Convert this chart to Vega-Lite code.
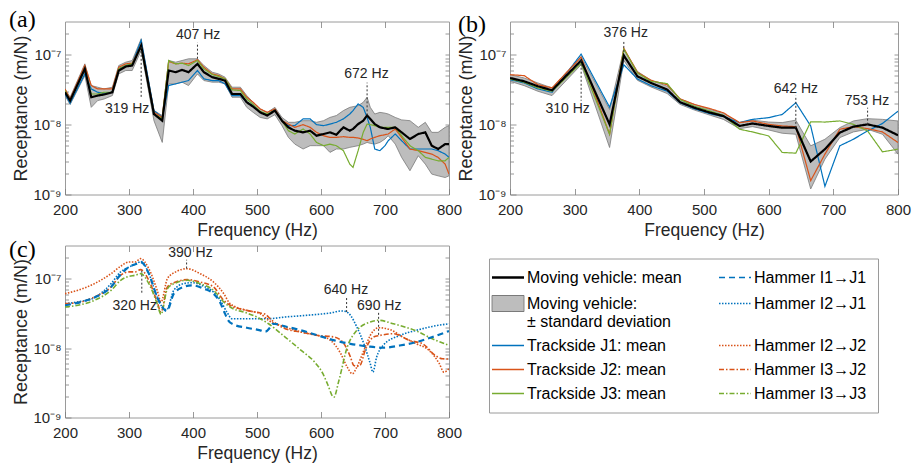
{
  "$schema": "https://vega.github.io/schema/vega-lite/v6.json",
  "background": "white",
  "padding": {"left": 8, "top": 7.5, "right": 5, "bottom": 2},
  "config": {
    "view": {"stroke": "#9a9a9a", "strokeWidth": 1},
    "font": "Liberation Sans",
    "axis": {"domain": false, "grid": false, "tickColor": "#7f7f7f", "tickWidth": 0.8, "labelFont": "Liberation Sans", "titleFont": "Liberation Sans", "labelColor": "#262626", "titleColor": "#262626", "titleFontWeight": "normal"}
  },
  "datasets": {
    "la": [
      {"s":"J1","f":200,"v":2.75e-8},{"s":"J1","f":208,"v":2.02e-8},{"s":"J1","f":231,"v":5.33e-8},{"s":"J1","f":241,"v":3.25e-8},{"s":"J1","f":251,"v":2.91e-8},{"s":"J1","f":261,"v":2.82e-8},{"s":"J1","f":274,"v":2.91e-8},{"s":"J1","f":284,"v":6.30e-8},{"s":"J1","f":295,"v":7.03e-8},{"s":"J1","f":305,"v":7.43e-8},{"s":"J1","f":319,"v":1.61e-7},{"s":"J1","f":339,"v":1.59e-8},{"s":"J1","f":352,"v":1.27e-8},{"s":"J1","f":362,"v":3.63e-8},{"s":"J1","f":373,"v":3.84e-8},{"s":"J1","f":383,"v":4.06e-8},{"s":"J1","f":393,"v":4.28e-8},{"s":"J1","f":407,"v":5.96e-8},{"s":"J1","f":417,"v":4.53e-8},{"s":"J1","f":430,"v":4.28e-8},{"s":"J1","f":440,"v":4.28e-8},{"s":"J1","f":450,"v":3.84e-8},{"s":"J1","f":461,"v":2.61e-8},{"s":"J1","f":474,"v":2.61e-8},{"s":"J1","f":484,"v":2.09e-8},{"s":"J1","f":494,"v":1.87e-8},{"s":"J1","f":505,"v":1.50e-8},{"s":"J1","f":516,"v":1.39e-8},{"s":"J1","f":528,"v":1.63e-8},{"s":"J1","f":539,"v":1.14e-8},{"s":"J1","f":549,"v":9.68e-9},{"s":"J1","f":559,"v":9.68e-9},{"s":"J1","f":572,"v":1.21e-8},{"s":"J1","f":583,"v":1.21e-8},{"s":"J1","f":593,"v":1.00e-8},{"s":"J1","f":604,"v":9.68e-9},{"s":"J1","f":614,"v":1.02e-8},{"s":"J1","f":624,"v":1.08e-8},{"s":"J1","f":635,"v":1.21e-8},{"s":"J1","f":645,"v":1.42e-8},{"s":"J1","f":650,"v":1.59e-8},{"s":"J1","f":658,"v":1.98e-8},{"s":"J1","f":666,"v":1.77e-8},{"s":"J1","f":672,"v":1.27e-8},{"s":"J1","f":677,"v":9.16e-9},{"s":"J1","f":684,"v":4.48e-9},{"s":"J1","f":692,"v":4.24e-9},{"s":"J1","f":700,"v":5.00e-9},{"s":"J1","f":705,"v":5.89e-9},{"s":"J1","f":716,"v":7.35e-9},{"s":"J1","f":726,"v":5.89e-9},{"s":"J1","f":739,"v":4.48e-9},{"s":"J1","f":752,"v":4.48e-9},{"s":"J1","f":763,"v":4.48e-9},{"s":"J1","f":773,"v":4.48e-9},{"s":"J1","f":783,"v":4.24e-9},{"s":"J1","f":794,"v":3.79e-9},{"s":"J1","f":800,"v":3.40e-9},
      {"s":"J2","f":200,"v":3.25e-8},{"s":"J2","f":208,"v":2.33e-8},{"s":"J2","f":231,"v":7.03e-8},{"s":"J2","f":241,"v":3.63e-8},{"s":"J2","f":251,"v":3.25e-8},{"s":"J2","f":261,"v":3.25e-8},{"s":"J2","f":274,"v":3.25e-8},{"s":"J2","f":284,"v":6.65e-8},{"s":"J2","f":295,"v":7.43e-8},{"s":"J2","f":305,"v":7.59e-8},{"s":"J2","f":319,"v":1.36e-7},{"s":"J2","f":339,"v":1.50e-8},{"s":"J2","f":352,"v":1.27e-8},{"s":"J2","f":362,"v":8.02e-8},{"s":"J2","f":373,"v":7.43e-8},{"s":"J2","f":383,"v":7.59e-8},{"s":"J2","f":393,"v":7.43e-8},{"s":"J2","f":407,"v":8.48e-8},{"s":"J2","f":417,"v":6.65e-8},{"s":"J2","f":430,"v":5.33e-8},{"s":"J2","f":440,"v":5.05e-8},{"s":"J2","f":450,"v":4.53e-8},{"s":"J2","f":461,"v":3.25e-8},{"s":"J2","f":474,"v":3.25e-8},{"s":"J2","f":484,"v":2.47e-8},{"s":"J2","f":494,"v":2.09e-8},{"s":"J2","f":505,"v":1.68e-8},{"s":"J2","f":516,"v":1.50e-8},{"s":"J2","f":528,"v":1.68e-8},{"s":"J2","f":539,"v":1.14e-8},{"s":"J2","f":549,"v":1.02e-8},{"s":"J2","f":559,"v":9.16e-9},{"s":"J2","f":572,"v":1.00e-8},{"s":"J2","f":583,"v":9.16e-9},{"s":"J2","f":593,"v":7.76e-9},{"s":"J2","f":604,"v":6.95e-9},{"s":"J2","f":614,"v":6.58e-9},{"s":"J2","f":624,"v":6.58e-9},{"s":"J2","f":635,"v":6.73e-9},{"s":"J2","f":645,"v":6.58e-9},{"s":"J2","f":650,"v":6.58e-9},{"s":"J2","f":658,"v":6.44e-9},{"s":"J2","f":666,"v":6.16e-9},{"s":"J2","f":672,"v":5.89e-9},{"s":"J2","f":677,"v":6.23e-9},{"s":"J2","f":684,"v":6.58e-9},{"s":"J2","f":692,"v":6.95e-9},{"s":"J2","f":700,"v":7.18e-9},{"s":"J2","f":705,"v":7.35e-9},{"s":"J2","f":716,"v":8.67e-9},{"s":"J2","f":726,"v":6.58e-9},{"s":"J2","f":739,"v":4.48e-9},{"s":"J2","f":752,"v":4.24e-9},{"s":"J2","f":763,"v":4.01e-9},{"s":"J2","f":773,"v":3.79e-9},{"s":"J2","f":783,"v":3.40e-9},{"s":"J2","f":794,"v":2.72e-9},{"s":"J2","f":800,"v":1.96e-9},
      {"s":"J3","f":200,"v":3.08e-8},{"s":"J3","f":208,"v":2.21e-8},{"s":"J3","f":231,"v":6.30e-8},{"s":"J3","f":241,"v":2.75e-8},{"s":"J3","f":251,"v":2.75e-8},{"s":"J3","f":261,"v":2.91e-8},{"s":"J3","f":274,"v":2.91e-8},{"s":"J3","f":284,"v":6.30e-8},{"s":"J3","f":295,"v":7.03e-8},{"s":"J3","f":305,"v":7.43e-8},{"s":"J3","f":319,"v":1.29e-7},{"s":"J3","f":339,"v":1.42e-8},{"s":"J3","f":352,"v":1.21e-8},{"s":"J3","f":362,"v":8.29e-8},{"s":"J3","f":373,"v":7.43e-8},{"s":"J3","f":383,"v":7.59e-8},{"s":"J3","f":393,"v":7.03e-8},{"s":"J3","f":407,"v":8.29e-8},{"s":"J3","f":417,"v":6.30e-8},{"s":"J3","f":430,"v":5.22e-8},{"s":"J3","f":440,"v":4.89e-8},{"s":"J3","f":450,"v":4.53e-8},{"s":"J3","f":461,"v":3.15e-8},{"s":"J3","f":474,"v":3.08e-8},{"s":"J3","f":484,"v":2.33e-8},{"s":"J3","f":494,"v":1.94e-8},{"s":"J3","f":505,"v":1.55e-8},{"s":"J3","f":516,"v":1.42e-8},{"s":"J3","f":528,"v":1.59e-8},{"s":"J3","f":539,"v":1.14e-8},{"s":"J3","f":549,"v":8.20e-9},{"s":"J3","f":559,"v":7.35e-9},{"s":"J3","f":572,"v":8.67e-9},{"s":"J3","f":583,"v":7.35e-9},{"s":"J3","f":593,"v":5.57e-9},{"s":"J3","f":604,"v":5.00e-9},{"s":"J3","f":614,"v":5.27e-9},{"s":"J3","f":624,"v":5.00e-9},{"s":"J3","f":635,"v":4.24e-9},{"s":"J3","f":645,"v":2.72e-9},{"s":"J3","f":650,"v":2.44e-9},{"s":"J3","f":658,"v":4.24e-9},{"s":"J3","f":666,"v":7.76e-9},{"s":"J3","f":672,"v":1.02e-8},{"s":"J3","f":677,"v":1.00e-8},{"s":"J3","f":684,"v":9.68e-9},{"s":"J3","f":692,"v":9.16e-9},{"s":"J3","f":700,"v":9.16e-9},{"s":"J3","f":705,"v":9.16e-9},{"s":"J3","f":716,"v":9.16e-9},{"s":"J3","f":726,"v":6.95e-9},{"s":"J3","f":739,"v":5.00e-9},{"s":"J3","f":752,"v":4.24e-9},{"s":"J3","f":763,"v":3.40e-9},{"s":"J3","f":773,"v":3.21e-9},{"s":"J3","f":783,"v":3.04e-9},{"s":"J3","f":794,"v":3.04e-9},{"s":"J3","f":800,"v":3.40e-9},
      {"s":"MV","f":200,"v":2.91e-8},{"s":"MV","f":208,"v":2.21e-8},{"s":"MV","f":231,"v":6.30e-8},{"s":"MV","f":241,"v":2.47e-8},{"s":"MV","f":251,"v":2.61e-8},{"s":"MV","f":261,"v":2.70e-8},{"s":"MV","f":274,"v":2.91e-8},{"s":"MV","f":284,"v":5.96e-8},{"s":"MV","f":295,"v":6.81e-8},{"s":"MV","f":305,"v":7.03e-8},{"s":"MV","f":319,"v":1.36e-7},{"s":"MV","f":339,"v":1.42e-8},{"s":"MV","f":352,"v":1.14e-8},{"s":"MV","f":362,"v":5.96e-8},{"s":"MV","f":373,"v":5.64e-8},{"s":"MV","f":383,"v":6.09e-8},{"s":"MV","f":393,"v":5.64e-8},{"s":"MV","f":407,"v":7.43e-8},{"s":"MV","f":417,"v":5.64e-8},{"s":"MV","f":430,"v":4.78e-8},{"s":"MV","f":440,"v":4.53e-8},{"s":"MV","f":450,"v":4.28e-8},{"s":"MV","f":461,"v":2.75e-8},{"s":"MV","f":474,"v":2.75e-8},{"s":"MV","f":484,"v":2.09e-8},{"s":"MV","f":494,"v":1.81e-8},{"s":"MV","f":505,"v":1.50e-8},{"s":"MV","f":516,"v":1.35e-8},{"s":"MV","f":528,"v":1.59e-8},{"s":"MV","f":539,"v":1.14e-8},{"s":"MV","f":549,"v":9.16e-9},{"s":"MV","f":559,"v":8.20e-9},{"s":"MV","f":572,"v":7.76e-9},{"s":"MV","f":583,"v":8.20e-9},{"s":"MV","f":593,"v":6.95e-9},{"s":"MV","f":604,"v":7.35e-9},{"s":"MV","f":614,"v":7.76e-9},{"s":"MV","f":624,"v":7.18e-9},{"s":"MV","f":635,"v":9.16e-9},{"s":"MV","f":645,"v":8.20e-9},{"s":"MV","f":650,"v":8.67e-9},{"s":"MV","f":658,"v":1.02e-8},{"s":"MV","f":666,"v":1.14e-8},{"s":"MV","f":672,"v":1.35e-8},{"s":"MV","f":677,"v":1.21e-8},{"s":"MV","f":684,"v":1.02e-8},{"s":"MV","f":692,"v":9.16e-9},{"s":"MV","f":700,"v":8.85e-9},{"s":"MV","f":705,"v":8.67e-9},{"s":"MV","f":716,"v":9.16e-9},{"s":"MV","f":726,"v":7.76e-9},{"s":"MV","f":739,"v":6.23e-9},{"s":"MV","f":752,"v":7.35e-9},{"s":"MV","f":763,"v":7.76e-9},{"s":"MV","f":773,"v":5.00e-9},{"s":"MV","f":783,"v":4.48e-9},{"s":"MV","f":794,"v":5.27e-9},{"s":"MV","f":800,"v":5.27e-9}
    ],
    "ba": [
      {"f":200,"lo":2.61e-8,"hi":3.25e-8},{"f":208,"lo":1.94e-8,"hi":2.47e-8},{"f":231,"lo":5.05e-8,"hi":7.43e-8},{"f":241,"lo":1.77e-8,"hi":3.63e-8},{"f":251,"lo":2.21e-8,"hi":3.44e-8},{"f":261,"lo":2.33e-8,"hi":3.25e-8},{"f":274,"lo":2.61e-8,"hi":3.44e-8},{"f":284,"lo":5.33e-8,"hi":7.03e-8},{"f":295,"lo":5.96e-8,"hi":7.85e-8},{"f":305,"lo":5.96e-8,"hi":8.29e-8},{"f":319,"lo":1.15e-7,"hi":1.70e-7},{"f":339,"lo":1.14e-8,"hi":1.59e-8},{"f":352,"lo":5.57e-9,"hi":1.35e-8},{"f":362,"lo":3.84e-8,"hi":8.29e-8},{"f":373,"lo":3.84e-8,"hi":7.85e-8},{"f":383,"lo":4.06e-8,"hi":8.29e-8},{"f":393,"lo":3.63e-8,"hi":8.77e-8},{"f":407,"lo":5.33e-8,"hi":8.77e-8},{"f":417,"lo":4.28e-8,"hi":7.03e-8},{"f":430,"lo":4.06e-8,"hi":5.64e-8},{"f":440,"lo":4.06e-8,"hi":5.33e-8},{"f":450,"lo":3.84e-8,"hi":4.78e-8},{"f":461,"lo":2.47e-8,"hi":3.44e-8},{"f":474,"lo":2.47e-8,"hi":3.44e-8},{"f":484,"lo":1.77e-8,"hi":2.61e-8},{"f":494,"lo":1.50e-8,"hi":2.09e-8},{"f":505,"lo":1.27e-8,"hi":1.68e-8},{"f":516,"lo":1.21e-8,"hi":1.50e-8},{"f":528,"lo":1.39e-8,"hi":1.77e-8},{"f":539,"lo":9.68e-9,"hi":1.27e-8},{"f":549,"lo":6.58e-9,"hi":1.08e-8},{"f":559,"lo":5.27e-9,"hi":1.08e-8},{"f":572,"lo":4.48e-9,"hi":1.14e-8},{"f":583,"lo":5.00e-9,"hi":1.14e-8},{"f":593,"lo":5.00e-9,"hi":1.08e-8},{"f":604,"lo":5.00e-9,"hi":1.14e-8},{"f":614,"lo":4.01e-9,"hi":1.27e-8},{"f":624,"lo":4.48e-9,"hi":1.35e-8},{"f":635,"lo":4.48e-9,"hi":1.59e-8},{"f":645,"lo":4.73e-9,"hi":1.77e-8},{"f":650,"lo":4.83e-9,"hi":1.81e-8},{"f":658,"lo":5.00e-9,"hi":1.87e-8},{"f":666,"lo":5.27e-9,"hi":2.09e-8},{"f":672,"lo":5.57e-9,"hi":2.47e-8},{"f":677,"lo":5.40e-9,"hi":1.77e-8},{"f":684,"lo":5.27e-9,"hi":1.42e-8},{"f":692,"lo":5.57e-9,"hi":1.50e-8},{"f":700,"lo":6.23e-9,"hi":1.46e-8},{"f":705,"lo":6.95e-9,"hi":1.42e-8},{"f":716,"lo":5.27e-9,"hi":1.27e-8},{"f":726,"lo":3.40e-9,"hi":1.17e-8},{"f":739,"lo":2.19e-9,"hi":1.14e-8},{"f":752,"lo":3.59e-9,"hi":9.16e-9},{"f":763,"lo":2.72e-9,"hi":1.08e-8},{"f":773,"lo":1.96e-9,"hi":7.76e-9},{"f":783,"lo":1.85e-9,"hi":7.76e-9},{"f":794,"lo":1.75e-9,"hi":9.16e-9},{"f":800,"lo":1.85e-9,"hi":9.68e-9}
    ],
    "lb": [
      {"s":"J1","f":200,"v":4.41e-8},{"s":"J1","f":222,"v":3.96e-8},{"s":"J1","f":243,"v":3.25e-8},{"s":"J1","f":265,"v":2.91e-8},{"s":"J1","f":310,"v":1.022e-7},{"s":"J1","f":354,"v":1.78e-8},{"s":"J1","f":376,"v":7.21e-8},{"s":"J1","f":397,"v":4.51e-8},{"s":"J1","f":418,"v":3.62e-8},{"s":"J1","f":443,"v":3.01e-8},{"s":"J1","f":463,"v":2.06e-8},{"s":"J1","f":485,"v":1.69e-8},{"s":"J1","f":510,"v":1.43e-8},{"s":"J1","f":530,"v":1.30e-8},{"s":"J1","f":555,"v":1.07e-8},{"s":"J1","f":575,"v":1.19e-8},{"s":"J1","f":600,"v":1.26e-8},{"s":"J1","f":621,"v":1.40e-8},{"s":"J1","f":642,"v":2.06e-8},{"s":"J1","f":665,"v":9.58e-9},{"s":"J1","f":687,"v":1.31e-9},{"s":"J1","f":710,"v":4.98e-9},{"s":"J1","f":731,"v":6.18e-9},{"s":"J1","f":753,"v":8.13e-9},{"s":"J1","f":776,"v":1.04e-8},{"s":"J1","f":800,"v":1.56e-8},
      {"s":"J2","f":200,"v":5.20e-8},{"s":"J2","f":222,"v":5.03e-8},{"s":"J2","f":243,"v":3.74e-8},{"s":"J2","f":265,"v":3.36e-8},{"s":"J2","f":310,"v":9.27e-8},{"s":"J2","f":354,"v":7.29e-9},{"s":"J2","f":376,"v":1.245e-7},{"s":"J2","f":397,"v":5.61e-8},{"s":"J2","f":418,"v":4.32e-8},{"s":"J2","f":443,"v":3.74e-8},{"s":"J2","f":463,"v":2.34e-8},{"s":"J2","f":485,"v":1.95e-8},{"s":"J2","f":510,"v":1.69e-8},{"s":"J2","f":530,"v":1.48e-8},{"s":"J2","f":555,"v":1.07e-8},{"s":"J2","f":575,"v":1.13e-8},{"s":"J2","f":600,"v":1.01e-8},{"s":"J2","f":621,"v":9.58e-9},{"s":"J2","f":642,"v":9.37e-9},{"s":"J2","f":665,"v":1.58e-9},{"s":"J2","f":687,"v":3.78e-9},{"s":"J2","f":710,"v":8.59e-9},{"s":"J2","f":731,"v":9.37e-9},{"s":"J2","f":753,"v":8.77e-9},{"s":"J2","f":776,"v":7.87e-9},{"s":"J2","f":800,"v":5.55e-9},
      {"s":"J3","f":200,"v":4.51e-8},{"s":"J3","f":222,"v":4.04e-8},{"s":"J3","f":243,"v":3.36e-8},{"s":"J3","f":265,"v":3.01e-8},{"s":"J3","f":310,"v":7.61e-8},{"s":"J3","f":354,"v":7.29e-9},{"s":"J3","f":376,"v":1.204e-7},{"s":"J3","f":397,"v":5.49e-8},{"s":"J3","f":418,"v":4.18e-8},{"s":"J3","f":443,"v":3.87e-8},{"s":"J3","f":463,"v":2.29e-8},{"s":"J3","f":485,"v":1.84e-8},{"s":"J3","f":510,"v":1.56e-8},{"s":"J3","f":530,"v":1.36e-8},{"s":"J3","f":555,"v":8.59e-9},{"s":"J3","f":575,"v":7.87e-9},{"s":"J3","f":600,"v":6.90e-9},{"s":"J3","f":621,"v":4.00e-9},{"s":"J3","f":642,"v":3.91e-9},{"s":"J3","f":665,"v":1.10e-8},{"s":"J3","f":687,"v":1.09e-8},{"s":"J3","f":710,"v":1.13e-8},{"s":"J3","f":731,"v":1.01e-8},{"s":"J3","f":753,"v":8.13e-9},{"s":"J3","f":776,"v":4.08e-9},{"s":"J3","f":800,"v":4.46e-9},
      {"s":"MV","f":200,"v":4.66e-8},{"s":"MV","f":222,"v":4.18e-8},{"s":"MV","f":243,"v":3.55e-8},{"s":"MV","f":265,"v":3.11e-8},{"s":"MV","f":310,"v":8.30e-8},{"s":"MV","f":354,"v":1.01e-8},{"s":"MV","f":376,"v":9.78e-8},{"s":"MV","f":397,"v":4.92e-8},{"s":"MV","f":418,"v":3.96e-8},{"s":"MV","f":443,"v":3.18e-8},{"s":"MV","f":463,"v":2.10e-8},{"s":"MV","f":485,"v":1.75e-8},{"s":"MV","f":510,"v":1.48e-8},{"s":"MV","f":530,"v":1.33e-8},{"s":"MV","f":555,"v":9.58e-9},{"s":"MV","f":575,"v":1.04e-8},{"s":"MV","f":600,"v":9.58e-9},{"s":"MV","f":621,"v":9.06e-9},{"s":"MV","f":642,"v":9.06e-9},{"s":"MV","f":665,"v":2.97e-9},{"s":"MV","f":687,"v":4.46e-9},{"s":"MV","f":710,"v":7.69e-9},{"s":"MV","f":731,"v":9.37e-9},{"s":"MV","f":753,"v":1.01e-8},{"s":"MV","f":776,"v":9.06e-9},{"s":"MV","f":800,"v":7.05e-9}
    ],
    "bb": [
      {"f":200,"lo":4.18e-8,"hi":5.20e-8},{"f":222,"lo":3.62e-8,"hi":4.66e-8},{"f":243,"lo":3.01e-8,"hi":3.96e-8},{"f":265,"lo":2.61e-8,"hi":3.36e-8},{"f":310,"lo":7.21e-8,"hi":9.47e-8},{"f":354,"lo":4.71e-9,"hi":1.65e-8},{"f":376,"lo":8.30e-8,"hi":1.217e-7},{"f":397,"lo":4.32e-8,"hi":5.79e-8},{"f":418,"lo":3.47e-8,"hi":4.32e-8},{"f":443,"lo":2.79e-8,"hi":3.55e-8},{"f":463,"lo":1.95e-8,"hi":2.34e-8},{"f":485,"lo":1.62e-8,"hi":1.95e-8},{"f":510,"lo":1.36e-8,"hi":1.65e-8},{"f":530,"lo":1.19e-8,"hi":1.45e-8},{"f":555,"lo":8.77e-9,"hi":1.07e-8},{"f":575,"lo":9.37e-9,"hi":1.16e-8},{"f":600,"lo":8.40e-9,"hi":1.09e-8},{"f":621,"lo":7.53e-9,"hi":1.07e-8},{"f":642,"lo":7.29e-9,"hi":1.16e-8},{"f":665,"lo":1.20e-9,"hi":4.98e-9},{"f":687,"lo":3.21e-9,"hi":6.18e-9},{"f":710,"lo":6.53e-9,"hi":9.06e-9},{"f":731,"lo":7.87e-9,"hi":1.13e-8},{"f":753,"lo":8.59e-9,"hi":1.22e-8},{"f":776,"lo":7.29e-9,"hi":1.19e-8},{"f":800,"lo":3.78e-9,"hi":1.13e-8}
    ],
    "lc": [
      {"s":"H11","f":200,"v":4.13e-8},{"s":"H11","f":225,"v":4.61e-8},{"s":"H11","f":250,"v":5.56e-8},{"s":"H11","f":272,"v":7.58e-8},{"s":"H11","f":287,"v":1.15e-7},{"s":"H11","f":300,"v":1.47e-7},{"s":"H11","f":310,"v":1.61e-7},{"s":"H11","f":319,"v":1.72e-7},{"s":"H11","f":331,"v":1.18e-7},{"s":"H11","f":344,"v":5.44e-8},{"s":"H11","f":352,"v":3.90e-8},{"s":"H11","f":359,"v":3.42e-8},{"s":"H11","f":370,"v":6.08e-8},{"s":"H11","f":385,"v":7.58e-8},{"s":"H11","f":398,"v":8.01e-8},{"s":"H11","f":417,"v":7.17e-8},{"s":"H11","f":432,"v":6.08e-8},{"s":"H11","f":442,"v":4.61e-8},{"s":"H11","f":450,"v":3.13e-8},{"s":"H11","f":455,"v":2.51e-8},{"s":"H11","f":463,"v":2.19e-8},{"s":"H11","f":484,"v":1.96e-8},{"s":"H11","f":505,"v":1.80e-8},{"s":"H11","f":513,"v":1.72e-8},{"s":"H11","f":520,"v":1.96e-8},{"s":"H11","f":525,"v":2.24e-8},{"s":"H11","f":544,"v":2.05e-8},{"s":"H11","f":569,"v":1.80e-8},{"s":"H11","f":595,"v":1.52e-8},{"s":"H11","f":621,"v":1.29e-8},{"s":"H11","f":646,"v":1.15e-8},{"s":"H11","f":672,"v":1.06e-8},{"s":"H11","f":697,"v":1.01e-8},{"s":"H11","f":723,"v":1.09e-8},{"s":"H11","f":749,"v":1.22e-8},{"s":"H11","f":774,"v":1.44e-8},{"s":"H11","f":800,"v":1.76e-8},
      {"s":"H21","f":200,"v":4.36e-8},{"s":"H21","f":225,"v":4.71e-8},{"s":"H21","f":246,"v":5.32e-8},{"s":"H21","f":272,"v":8.47e-8},{"s":"H21","f":287,"v":1.25e-7},{"s":"H21","f":300,"v":1.47e-7},{"s":"H21","f":310,"v":1.61e-7},{"s":"H21","f":319,"v":1.76e-7},{"s":"H21","f":331,"v":1.18e-7},{"s":"H21","f":344,"v":5.44e-8},{"s":"H21","f":352,"v":3.90e-8},{"s":"H21","f":359,"v":3.57e-8},{"s":"H21","f":370,"v":6.79e-8},{"s":"H21","f":385,"v":8.47e-8},{"s":"H21","f":398,"v":8.75e-8},{"s":"H21","f":417,"v":7.75e-8},{"s":"H21","f":432,"v":6.42e-8},{"s":"H21","f":442,"v":4.98e-8},{"s":"H21","f":453,"v":3.30e-8},{"s":"H21","f":461,"v":2.65e-8},{"s":"H21","f":484,"v":2.65e-8},{"s":"H21","f":505,"v":2.65e-8},{"s":"H21","f":518,"v":2.65e-8},{"s":"H21","f":544,"v":2.80e-8},{"s":"H21","f":569,"v":2.92e-8},{"s":"H21","f":595,"v":3.06e-8},{"s":"H21","f":615,"v":3.20e-8},{"s":"H21","f":631,"v":3.42e-8},{"s":"H21","f":638,"v":3.38e-8},{"s":"H21","f":646,"v":2.96e-8},{"s":"H21","f":656,"v":2.01e-8},{"s":"H21","f":667,"v":1.15e-8},{"s":"H21","f":677,"v":5.95e-9},{"s":"H21","f":681,"v":4.51e-9},{"s":"H21","f":687,"v":7.44e-9},{"s":"H21","f":697,"v":1.09e-8},{"s":"H21","f":723,"v":1.52e-8},{"s":"H21","f":749,"v":1.80e-8},{"s":"H21","f":774,"v":2.05e-8},{"s":"H21","f":800,"v":2.24e-8},
      {"s":"H22","f":200,"v":6.08e-8},{"s":"H22","f":220,"v":6.79e-8},{"s":"H22","f":246,"v":8.47e-8},{"s":"H22","f":272,"v":1.18e-7},{"s":"H22","f":287,"v":1.51e-7},{"s":"H22","f":300,"v":1.74e-7},{"s":"H22","f":310,"v":1.74e-7},{"s":"H22","f":318,"v":1.94e-7},{"s":"H22","f":331,"v":1.39e-7},{"s":"H22","f":344,"v":6.79e-8},{"s":"H22","f":350,"v":4.61e-8},{"s":"H22","f":360,"v":1.0e-7},{"s":"H22","f":373,"v":1.25e-7},{"s":"H22","f":391,"v":1.39e-7},{"s":"H22","f":411,"v":1.18e-7},{"s":"H22","f":432,"v":8.95e-8},{"s":"H22","f":448,"v":6.08e-8},{"s":"H22","f":458,"v":4.36e-8},{"s":"H22","f":484,"v":3.49e-8},{"s":"H22","f":505,"v":3.13e-8},{"s":"H22","f":518,"v":2.51e-8},{"s":"H22","f":544,"v":2.01e-8},{"s":"H22","f":569,"v":1.70e-8},{"s":"H22","f":595,"v":1.52e-8},{"s":"H22","f":615,"v":1.29e-8},{"s":"H22","f":631,"v":8.28e-9},{"s":"H22","f":641,"v":5.32e-9},{"s":"H22","f":649,"v":4.27e-9},{"s":"H22","f":656,"v":5.32e-9},{"s":"H22","f":667,"v":9.25e-9},{"s":"H22","f":677,"v":1.52e-8},{"s":"H22","f":690,"v":1.96e-8},{"s":"H22","f":708,"v":1.84e-8},{"s":"H22","f":728,"v":1.44e-8},{"s":"H22","f":749,"v":1.15e-8},{"s":"H22","f":769,"v":9.25e-9},{"s":"H22","f":785,"v":5.94e-9},{"s":"H22","f":792,"v":4.51e-9},{"s":"H22","f":800,"v":5.04e-9},
      {"s":"H32","f":200,"v":4.36e-8},{"s":"H32","f":225,"v":4.61e-8},{"s":"H32","f":246,"v":5.44e-8},{"s":"H32","f":272,"v":7.58e-8},{"s":"H32","f":287,"v":1.12e-7},{"s":"H32","f":300,"v":1.25e-7},{"s":"H32","f":310,"v":1.25e-7},{"s":"H32","f":318,"v":1.35e-7},{"s":"H32","f":331,"v":9.46e-8},{"s":"H32","f":344,"v":4.61e-8},{"s":"H32","f":350,"v":3.30e-8},{"s":"H32","f":360,"v":7.58e-8},{"s":"H32","f":373,"v":8.95e-8},{"s":"H32","f":391,"v":9.67e-8},{"s":"H32","f":411,"v":8.95e-8},{"s":"H32","f":432,"v":7.58e-8},{"s":"H32","f":448,"v":4.87e-8},{"s":"H32","f":458,"v":4.13e-8},{"s":"H32","f":484,"v":3.49e-8},{"s":"H32","f":505,"v":3.20e-8},{"s":"H32","f":513,"v":3.06e-8},{"s":"H32","f":523,"v":2.51e-8},{"s":"H32","f":544,"v":1.90e-8},{"s":"H32","f":569,"v":1.70e-8},{"s":"H32","f":595,"v":1.52e-8},{"s":"H32","f":621,"v":1.44e-8},{"s":"H32","f":636,"v":1.15e-8},{"s":"H32","f":646,"v":7.44e-9},{"s":"H32","f":651,"v":5.63e-9},{"s":"H32","f":656,"v":5.45e-9},{"s":"H32","f":661,"v":5.63e-9},{"s":"H32","f":669,"v":9.25e-9},{"s":"H32","f":682,"v":1.44e-8},{"s":"H32","f":692,"v":1.52e-8},{"s":"H32","f":713,"v":1.61e-8},{"s":"H32","f":738,"v":1.29e-8},{"s":"H32","f":759,"v":1.15e-8},{"s":"H32","f":779,"v":7.79e-9},{"s":"H32","f":790,"v":7.01e-9},{"s":"H32","f":800,"v":6.95e-9},
      {"s":"H33","f":200,"v":3.90e-8},{"s":"H33","f":225,"v":4.22e-8},{"s":"H33","f":246,"v":4.87e-8},{"s":"H33","f":272,"v":6.79e-8},{"s":"H33","f":287,"v":9.46e-8},{"s":"H33","f":300,"v":1.08e-7},{"s":"H33","f":310,"v":1.12e-7},{"s":"H33","f":318,"v":1.18e-7},{"s":"H33","f":331,"v":8.47e-8},{"s":"H33","f":344,"v":4.36e-8},{"s":"H33","f":350,"v":3.06e-8},{"s":"H33","f":360,"v":7.17e-8},{"s":"H33","f":373,"v":8.66e-8},{"s":"H33","f":391,"v":9.46e-8},{"s":"H33","f":411,"v":8.47e-8},{"s":"H33","f":432,"v":6.79e-8},{"s":"H33","f":448,"v":4.61e-8},{"s":"H33","f":458,"v":3.90e-8},{"s":"H33","f":484,"v":3.20e-8},{"s":"H33","f":505,"v":2.65e-8},{"s":"H33","f":518,"v":2.24e-8},{"s":"H33","f":544,"v":1.44e-8},{"s":"H33","f":569,"v":9.25e-9},{"s":"H33","f":590,"v":6.29e-9},{"s":"H33","f":603,"v":4.27e-9},{"s":"H33","f":610,"v":3.06e-9},{"s":"H33","f":620,"v":1.96e-9},{"s":"H33","f":628,"v":3.42e-9},{"s":"H33","f":641,"v":1.03e-8},{"s":"H33","f":656,"v":1.80e-8},{"s":"H33","f":677,"v":2.37e-8},{"s":"H33","f":690,"v":2.51e-8},{"s":"H33","f":713,"v":2.24e-8},{"s":"H33","f":749,"v":1.76e-8},{"s":"H33","f":774,"v":1.36e-8},{"s":"H33","f":800,"v":1.09e-8}
    ],
    "ann": [
      {"p":"a","f":319,"y1":1.3e-7,"y2":2.35e-8,"tf":297,"ty":1.69e-8,"t":"319 Hz"},
      {"p":"a","f":407,"y1":8.8e-8,"y2":1.5e-7,"tf":408,"ty":1.92e-7,"t":"407 Hz"},
      {"p":"a","f":672,"y1":1.36e-8,"y2":4.0e-8,"tf":671,"ty":5.4e-8,"t":"672 Hz"},
      {"p":"b","f":310,"y1":8.5e-8,"y2":2.2e-8,"tf":289,"ty":1.65e-8,"t":"310 Hz"},
      {"p":"b","f":376,"y1":1.1e-7,"y2":1.63e-7,"tf":379,"ty":2.08e-7,"t":"376 Hz"},
      {"p":"b","f":642,"y1":9e-9,"y2":2.6e-8,"tf":642,"ty":3.25e-8,"t":"642 Hz"},
      {"p":"b","f":753,"y1":1.0e-8,"y2":1.75e-8,"tf":752,"ty":2.17e-8,"t":"753 Hz"},
      {"p":"c","f":320,"y1":1.3e-7,"y2":5.9e-8,"tf":309,"ty":4.0e-8,"t":"320 Hz"},
      {"p":"c","f":390,"y1":1.4e-7,"y2":1.87e-7,"tf":396,"ty":2.33e-7,"t":"390 Hz"},
      {"p":"c","f":640,"y1":3.3e-8,"y2":5.6e-8,"tf":639,"ty":6.8e-8,"t":"640 Hz"},
      {"p":"c","f":690,"y1":1.55e-8,"y2":3.4e-8,"tf":691,"ty":4.1e-8,"t":"690 Hz"}
    ]
  },
  "concat": [
    {
      "width": 384, "height": 173,
      "title": {"text": "(a)", "anchor": "start", "frame": "group", "font": "Liberation Serif", "fontSize": 24, "fontWeight": "normal", "color": "#000000", "dx": -56, "dy": 30, "offset": 0, "baseline": "alphabetic"},
      "resolve": {"axis": {"x": "independent", "y": "independent"}},
      "layer": [
        {"data": {"name": "ba"}, "mark": {"type": "area", "fill": "#bdbdbd", "stroke": "#7a7a7a", "strokeWidth": 0.8, "clip": true},
         "encoding": {"x": {"field": "f", "type": "quantitative", "scale": {"domain": [200, 800], "nice": false, "zero": false}, "axis": null},
                      "y": {"field": "lo", "type": "quantitative", "scale": {"type": "log", "domain": [1e-9, 3e-7], "nice": false}, "axis": null},
                      "y2": {"field": "hi"}}},
        {"data": {"name": "la"}, "transform": [{"filter": "datum.s != 'MV'"}], "mark": {"type": "line", "strokeWidth": 1.2, "clip": true},
         "encoding": {"x": {"field": "f", "type": "quantitative", "scale": {"domain": [200, 800], "nice": false, "zero": false},
                            "axis": {"orient": "bottom", "values": [200, 300, 400, 500, 600, 700, 800], "tickSize": -6, "labelPadding": 14, "labelFontSize": 15, "title": "Frequency (Hz)", "titleFontSize": 17.5, "titlePadding": 4, "labelFlush": false, "labelOverlap": false}},
                      "y": {"field": "v", "type": "quantitative", "scale": {"type": "log", "domain": [1e-9, 3e-7], "nice": false},
                            "axis": {"orient": "left", "values": [1e-9, 1e-8, 1e-7], "tickSize": -6, "labelPadding": 10, "labelFontSize": 15, "labelExpr": "datum.value < 1.5e-9 ? '10⁻⁹' : (datum.value < 1.5e-8 ? '10⁻⁸' : '10⁻⁷')", "title": "Receptance (m/N)", "titleFontSize": 18, "titlePadding": 2}},
                      "color": {"field": "s", "type": "nominal",
                                "scale": {"domain": ["MV", "SD", "J1", "J2", "J3", "H11", "H21", "H22", "H32", "H33"], "range": ["#000000", "#7a7a7a", "#0072BD", "#D95319", "#77AC30", "#0072BD", "#0072BD", "#D95319", "#D95319", "#77AC30"]},
                                "legend": {"orient": "none", "legendX": 424, "legendY": 237, "columns": 2, "title": null, "symbolType": "stroke", "symbolSize": 1024, "symbolStrokeWidth": 1.5, "labelFont": "Liberation Sans", "labelFontSize": 16, "labelColor": "#000000", "labelLimit": 400, "labelOffset": 11, "rowPadding": 8, "columnPadding": 34, "padding": 11, "strokeColor": "#9a9a9a", "fillColor": "white",
                                           "labelExpr": "datum.value == 'MV' ? 'Moving vehicle: mean' : datum.value == 'SD' ? ['Moving vehicle:', '± standard deviation'] : datum.value == 'J1' ? 'Trackside J1: mean' : datum.value == 'J2' ? 'Trackside J2: mean' : datum.value == 'J3' ? 'Trackside J3: mean' : datum.value == 'H11' ? 'Hammer I1→J1' : datum.value == 'H21' ? 'Hammer I2→J1' : datum.value == 'H22' ? 'Hammer I2→J2' : datum.value == 'H32' ? 'Hammer I3→J2' : 'Hammer I3→J3'",
                                           "encoding": {"symbols": {
                                             "shape": {"value": {"expr": "datum.value == 'SD' ? 'M-1,-0.5H1V0.5H-1Z' : 'stroke'"}},
                                             "fill": {"value": {"expr": "datum.value == 'SD' ? '#bdbdbd' : 'transparent'"}},
                                             "strokeWidth": {"value": {"expr": "datum.value == 'MV' ? 2.5 : (datum.value == 'SD' ? 1 : 1.5)"}}
                                           }}}},
                      "strokeDash": {"field": "s", "type": "nominal",
                                     "scale": {"domain": ["MV", "SD", "J1", "J2", "J3", "H11", "H21", "H22", "H32", "H33"], "range": [[1, 0], [1, 0], [1, 0], [1, 0], [1, 0], [6, 4], [1.5, 1.5], [1.5, 1.5], [5, 2, 1.5, 2], [5, 2, 1.5, 2]]}}}},
        {"data": {"name": "la"}, "transform": [{"filter": "datum.s == 'MV'"}], "mark": {"type": "line", "strokeWidth": 2.2, "clip": true},
         "encoding": {"x": {"field": "f", "type": "quantitative", "scale": {"domain": [200, 800], "nice": false, "zero": false}, "axis": null},
                      "y": {"field": "v", "type": "quantitative", "scale": {"type": "log", "domain": [1e-9, 3e-7], "nice": false}, "axis": null},
                      "color": {"field": "s", "type": "nominal"},
                      "strokeDash": {"field": "s", "type": "nominal"}}},
        {"data": {"name": "ann"}, "transform": [{"filter": "datum.p == 'a'"}], "mark": {"type": "rule", "strokeDash": [2, 2], "color": "#333333", "strokeWidth": 1},
         "encoding": {"x": {"field": "f", "type": "quantitative", "scale": {"domain": [200, 800], "nice": false, "zero": false}, "axis": {"orient": "top", "values": [300, 400, 500, 600, 700], "tickSize": -6, "labels": false, "title": null}},
                      "y": {"field": "y1", "type": "quantitative", "scale": {"type": "log", "domain": [1e-9, 3e-7], "nice": false}, "axis": {"orient": "right", "values": [2e-9, 3e-9, 4e-9, 5e-9, 6e-9, 7e-9, 8e-9, 9e-9, 1e-8, 2e-8, 3e-8, 4e-8, 5e-8, 6e-8, 7e-8, 8e-8, 9e-8, 1e-7, 2e-7], "tickSize": -4, "labels": false, "title": null}},
                      "y2": {"field": "y2"}}},
        {"data": {"name": "ann"}, "transform": [{"filter": "datum.p == 'a'"}], "mark": {"type": "text", "fontSize": 14, "font": "Liberation Sans", "color": "#262626", "baseline": "middle", "align": "center"},
         "encoding": {"x": {"field": "tf", "type": "quantitative", "scale": {"domain": [200, 800], "nice": false, "zero": false}, "axis": null},
                      "y": {"field": "ty", "type": "quantitative", "scale": {"type": "log", "domain": [1e-9, 3e-7], "nice": false}, "axis": {"orient": "left", "values": [2e-9, 3e-9, 4e-9, 5e-9, 6e-9, 7e-9, 8e-9, 9e-9, 2e-8, 3e-8, 4e-8, 5e-8, 6e-8, 7e-8, 8e-8, 9e-8, 2e-7], "tickSize": -3.5, "labels": false, "title": null}},
                      "text": {"field": "t"}}}
      ]
    },
    {
      "width": 388, "height": 173,
      "title": {"text": "(b)", "anchor": "start", "frame": "group", "font": "Liberation Serif", "fontSize": 24, "fontWeight": "normal", "color": "#000000", "dx": -52, "dy": 35, "offset": 0, "baseline": "alphabetic"},
      "resolve": {"axis": {"x": "independent", "y": "independent"}},
      "layer": [
        {"data": {"name": "bb"}, "mark": {"type": "area", "fill": "#bdbdbd", "stroke": "#7a7a7a", "strokeWidth": 0.8, "clip": true},
         "encoding": {"x": {"field": "f", "type": "quantitative", "scale": {"domain": [200, 800], "nice": false, "zero": false}, "axis": null},
                      "y": {"field": "lo", "type": "quantitative", "scale": {"type": "log", "domain": [1e-9, 3e-7], "nice": false}, "axis": null},
                      "y2": {"field": "hi"}}},
        {"data": {"name": "lb"}, "transform": [{"filter": "datum.s != 'MV'"}], "mark": {"type": "line", "strokeWidth": 1.2, "clip": true},
         "encoding": {"x": {"field": "f", "type": "quantitative", "scale": {"domain": [200, 800], "nice": false, "zero": false},
                            "axis": {"orient": "bottom", "values": [200, 300, 400, 500, 600, 700, 800], "tickSize": -6, "labelPadding": 14, "labelFontSize": 15, "title": "Frequency (Hz)", "titleFontSize": 17.5, "titlePadding": 4, "labelFlush": false, "labelOverlap": false}},
                      "y": {"field": "v", "type": "quantitative", "scale": {"type": "log", "domain": [1e-9, 3e-7], "nice": false},
                            "axis": {"orient": "left", "values": [1e-9, 1e-8, 1e-7], "tickSize": -6, "labelPadding": 10, "labelFontSize": 15, "labelExpr": "datum.value < 1.5e-9 ? '10⁻⁹' : (datum.value < 1.5e-8 ? '10⁻⁸' : '10⁻⁷')", "title": "Receptance (m/N)", "titleFontSize": 18, "titlePadding": 2}},
                      "color": {"field": "s", "type": "nominal"},
                      "strokeDash": {"field": "s", "type": "nominal"}}},
        {"data": {"name": "lb"}, "transform": [{"filter": "datum.s == 'MV'"}], "mark": {"type": "line", "strokeWidth": 2.2, "clip": true},
         "encoding": {"x": {"field": "f", "type": "quantitative", "scale": {"domain": [200, 800], "nice": false, "zero": false}, "axis": null},
                      "y": {"field": "v", "type": "quantitative", "scale": {"type": "log", "domain": [1e-9, 3e-7], "nice": false}, "axis": null},
                      "color": {"field": "s", "type": "nominal"},
                      "strokeDash": {"field": "s", "type": "nominal"}}},
        {"data": {"name": "ann"}, "transform": [{"filter": "datum.p == 'b'"}], "mark": {"type": "rule", "strokeDash": [2, 2], "color": "#333333", "strokeWidth": 1},
         "encoding": {"x": {"field": "f", "type": "quantitative", "scale": {"domain": [200, 800], "nice": false, "zero": false}, "axis": {"orient": "top", "values": [300, 400, 500, 600, 700], "tickSize": -6, "labels": false, "title": null}},
                      "y": {"field": "y1", "type": "quantitative", "scale": {"type": "log", "domain": [1e-9, 3e-7], "nice": false}, "axis": {"orient": "right", "values": [2e-9, 3e-9, 4e-9, 5e-9, 6e-9, 7e-9, 8e-9, 9e-9, 1e-8, 2e-8, 3e-8, 4e-8, 5e-8, 6e-8, 7e-8, 8e-8, 9e-8, 1e-7, 2e-7], "tickSize": -4, "labels": false, "title": null}},
                      "y2": {"field": "y2"}}},
        {"data": {"name": "ann"}, "transform": [{"filter": "datum.p == 'b'"}], "mark": {"type": "text", "fontSize": 14, "font": "Liberation Sans", "color": "#262626", "baseline": "middle", "align": "center"},
         "encoding": {"x": {"field": "tf", "type": "quantitative", "scale": {"domain": [200, 800], "nice": false, "zero": false}, "axis": null},
                      "y": {"field": "ty", "type": "quantitative", "scale": {"type": "log", "domain": [1e-9, 3e-7], "nice": false}, "axis": {"orient": "left", "values": [2e-9, 3e-9, 4e-9, 5e-9, 6e-9, 7e-9, 8e-9, 9e-9, 2e-8, 3e-8, 4e-8, 5e-8, 6e-8, 7e-8, 8e-8, 9e-8, 2e-7], "tickSize": -3.5, "labels": false, "title": null}},
                      "text": {"field": "t"}}}
      ]
    },
    {
      "width": 384, "height": 172,
      "title": {"text": "(c)", "anchor": "start", "frame": "group", "font": "Liberation Serif", "fontSize": 24, "fontWeight": "normal", "color": "#000000", "dx": -56, "dy": 36, "offset": 0, "baseline": "alphabetic"},
      "resolve": {"axis": {"x": "independent", "y": "independent"}},
      "layer": [
        {"data": {"name": "lc"}, "transform": [{"filter": "datum.s != 'H11'"}], "mark": {"type": "line", "strokeWidth": 1.6, "interpolate": "monotone", "clip": true},
         "encoding": {"x": {"field": "f", "type": "quantitative", "scale": {"domain": [200, 800], "nice": false, "zero": false},
                            "axis": {"orient": "bottom", "values": [200, 300, 400, 500, 600, 700, 800], "tickSize": -6, "labelPadding": 14, "labelFontSize": 15, "title": "Frequency (Hz)", "titleFontSize": 17.5, "titlePadding": 4, "labelFlush": false, "labelOverlap": false}},
                      "y": {"field": "v", "type": "quantitative", "scale": {"type": "log", "domain": [1e-9, 3e-7], "nice": false},
                            "axis": {"orient": "left", "values": [1e-9, 1e-8, 1e-7], "tickSize": -6, "labelPadding": 10, "labelFontSize": 15, "labelExpr": "datum.value < 1.5e-9 ? '10⁻⁹' : (datum.value < 1.5e-8 ? '10⁻⁸' : '10⁻⁷')", "title": "Receptance (m/N)", "titleFontSize": 18, "titlePadding": 2}},
                      "color": {"field": "s", "type": "nominal"},
                      "strokeDash": {"field": "s", "type": "nominal"}}},
        {"data": {"name": "lc"}, "transform": [{"filter": "datum.s == 'H11'"}], "mark": {"type": "line", "strokeWidth": 2.2, "interpolate": "monotone", "clip": true},
         "encoding": {"x": {"field": "f", "type": "quantitative", "scale": {"domain": [200, 800], "nice": false, "zero": false}, "axis": null},
                      "y": {"field": "v", "type": "quantitative", "scale": {"type": "log", "domain": [1e-9, 3e-7], "nice": false}, "axis": null},
                      "color": {"field": "s", "type": "nominal"},
                      "strokeDash": {"field": "s", "type": "nominal"}}},
        {"data": {"name": "ann"}, "transform": [{"filter": "datum.p == 'c'"}], "mark": {"type": "rule", "strokeDash": [2, 2], "color": "#333333", "strokeWidth": 1},
         "encoding": {"x": {"field": "f", "type": "quantitative", "scale": {"domain": [200, 800], "nice": false, "zero": false}, "axis": {"orient": "top", "values": [300, 400, 500, 600, 700], "tickSize": -6, "labels": false, "title": null}},
                      "y": {"field": "y1", "type": "quantitative", "scale": {"type": "log", "domain": [1e-9, 3e-7], "nice": false}, "axis": {"orient": "right", "values": [2e-9, 3e-9, 4e-9, 5e-9, 6e-9, 7e-9, 8e-9, 9e-9, 1e-8, 2e-8, 3e-8, 4e-8, 5e-8, 6e-8, 7e-8, 8e-8, 9e-8, 1e-7, 2e-7], "tickSize": -4, "labels": false, "title": null}},
                      "y2": {"field": "y2"}}},
        {"data": {"name": "ann"}, "transform": [{"filter": "datum.p == 'c'"}], "mark": {"type": "text", "fontSize": 14, "font": "Liberation Sans", "color": "#262626", "baseline": "middle", "align": "center"},
         "encoding": {"x": {"field": "tf", "type": "quantitative", "scale": {"domain": [200, 800], "nice": false, "zero": false}, "axis": null},
                      "y": {"field": "ty", "type": "quantitative", "scale": {"type": "log", "domain": [1e-9, 3e-7], "nice": false}, "axis": {"orient": "left", "values": [2e-9, 3e-9, 4e-9, 5e-9, 6e-9, 7e-9, 8e-9, 9e-9, 2e-8, 3e-8, 4e-8, 5e-8, 6e-8, 7e-8, 8e-8, 9e-8, 2e-7], "tickSize": -3.5, "labels": false, "title": null}},
                      "text": {"field": "t"}}}
      ]
    }
  ],
  "columns": 2,
  "spacing": {"row": 51, "column": 61},
  "bounds": "flush"
}
